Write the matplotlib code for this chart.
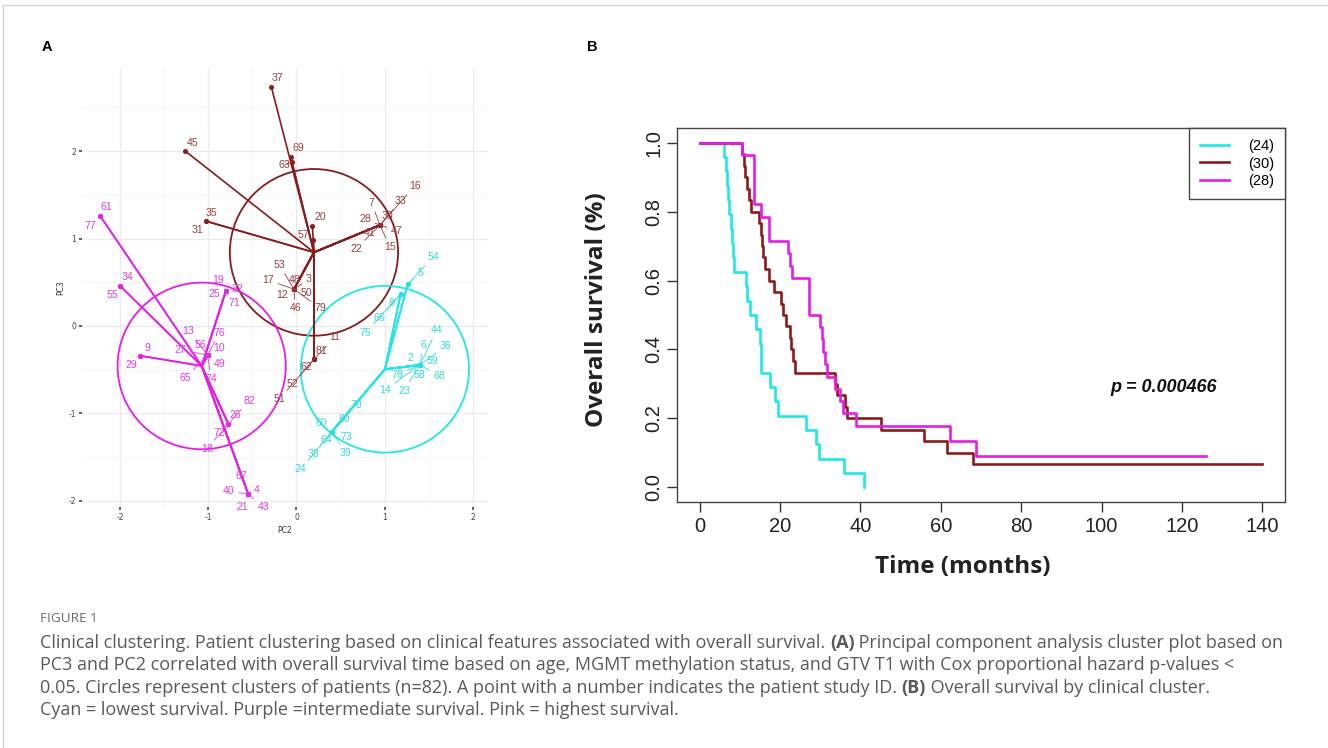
import matplotlib
matplotlib.use('Agg')
import matplotlib.pyplot as plt
from matplotlib.patches import Circle
from matplotlib.lines import Line2D

plt.rcParams['axes.unicode_minus'] = False

# ---------------- panel A: PCA cluster plot (PC2 vs PC3) ----------------
brown_center = (0.198, 0.842)
brown_ids = [37, 69, 63, 45, 35, 31, 20, 57, 16, 33, 7, 28, 30, 47, 41, 22, 15,
             53, 17, 48, 3, 12, 50, 46, 79, 11, 81, 62, 52, 51]
brown_pc2 = [-0.285, -0.066, -0.05, -1.26, -1.03, -1.03, 0.18, 0.19,
             0.946, 0.946, 0.946, 0.946, 0.946, 0.946, 0.946, 0.946, 0.946,
             -0.028, -0.028, -0.028, -0.028, -0.028, -0.028, -0.028, -0.028,
             0.198, 0.198, 0.198, 0.198, 0.198]
brown_pc3 = [2.735, 1.935, 1.87, 2.0, 1.2, 1.2, 1.146, 0.98,
             1.154, 1.154, 1.154, 1.154, 1.154, 1.154, 1.154, 1.154, 1.154,
             0.42, 0.42, 0.42, 0.42, 0.42, 0.42, 0.42, 0.42,
             -0.38, -0.38, -0.38, -0.38, -0.38]
brown_lab2 = [-0.21, 0.017, -0.14, -1.18, -0.96, -1.12, 0.27, 0.077,
              1.342, 1.183, 0.85, 0.776, 1.03, 1.135, 0.832, 0.674, 1.06,
              -0.195, -0.32, -0.025, 0.14, -0.168, 0.115, -0.014, 0.274,
              0.436, 0.285, 0.108, -0.043, -0.195]
brown_lab3 = [2.83, 2.03, 1.84, 2.09, 1.29, 1.10, 1.246, 1.04,
              1.6, 1.43, 1.41, 1.22, 1.257, 1.09, 1.06, 0.88, 0.9,
              0.70, 0.526, 0.526, 0.537, 0.354, 0.374, 0.2, 0.2,
              -0.13, -0.286, -0.47, -0.667, -0.838]

cyan_center = (1.002, -0.495)
cyan_ids = [54, 5, 8, 66, 75, 44, 6, 36, 2, 59, 78, 58, 68, 14, 23,
            70, 80, 60, 64, 73, 38, 39, 24]
cyan_pc2 = [1.26, 1.26, 1.18, 1.18, 1.18,
            1.399, 1.399, 1.399, 1.399, 1.399, 1.399, 1.399, 1.399, 1.399, 1.399,
            0.40, 0.40, 0.40, 0.40, 0.40, 0.40, 0.40, 0.40]
cyan_pc3 = [0.477, 0.477, 0.366, 0.366, 0.366,
            -0.446, -0.446, -0.446, -0.446, -0.446, -0.446, -0.446, -0.446, -0.446, -0.446,
            -1.21, -1.21, -1.21, -1.21, -1.21, -1.21, -1.21, -1.21]
cyan_lab2 = [1.55, 1.40, 1.078, 0.938, 0.784,
             1.588, 1.436, 1.693, 1.293, 1.542, 1.146, 1.39, 1.617, 1.002, 1.217,
             0.674, 0.541, 0.285, 0.342, 0.568, 0.19, 0.56, 0.048]
cyan_lab3 = [0.79, 0.61, 0.266, 0.088, -0.077,
             -0.046, -0.217, -0.229, -0.37, -0.397, -0.56, -0.56, -0.571, -0.731, -0.739,
             -0.903, -1.066, -1.112, -1.303, -1.265, -1.463, -1.448, -1.638]

pink_center = (-1.074, -0.457)
pink_ids = [61, 77, 34, 55, 9, 29, 19, 25, 32, 71, 13, 76, 27, 56, 10, 49, 65, 74,
            82, 26, 72, 18, 67, 40, 4, 21, 43]
pink_pc2 = [-2.225, -2.225, -2.0, -2.0, -1.772, -1.772, -0.80, -0.80, -0.80, -0.80,
            -1.006, -1.006, -1.006, -1.006, -1.006, -1.006, -1.006, -1.006,
            -0.772, -0.772, -0.772, -0.772, -0.546, -0.546, -0.546, -0.546, -0.546]
pink_pc3 = [1.26, 1.26, 0.46, 0.46, -0.34, -0.34, 0.40, 0.40, 0.40, 0.40,
            -0.331, -0.331, -0.331, -0.331, -0.331, -0.331, -0.331, -0.331,
            -1.12, -1.12, -1.12, -1.12, -1.923, -1.923, -1.923, -1.923, -1.923]
pink_lab2 = [-2.15, -2.33, -1.91, -2.09, -1.69, -1.866, -0.886, -0.934, -0.666, -0.708,
             -1.225, -0.874, -1.32, -1.093, -0.874, -0.866, -1.263, -0.968,
             -0.535, -0.689, -0.874, -1.017, -0.62, -0.764, -0.45, -0.609, -0.376]
pink_lab3 = [1.363, 1.146, 0.556, 0.354, -0.248, -0.446, 0.526, 0.362, 0.42, 0.26,
             -0.057, -0.077, -0.274, -0.217, -0.255, -0.434, -0.598, -0.609,
             -0.853, -1.017, -1.219, -1.406, -1.714, -1.886, -1.874, -2.072, -2.072]

circle_radius = 0.953

# ---------------- panel B: Kaplan-Meier curves ----------------
cyan_time = [0, 6.2, 6.5, 6.8, 7.1, 7.4, 7.8, 8.1, 8.4, 8.6, 11.5, 11.9, 12.5,
             14.0, 15.0, 15.2, 15.4, 17.5, 18.7, 19.4, 26.6, 28.9, 29.7, 35.9, 40.9]
cyan_surv = [1.0, 0.958, 0.917, 0.875, 0.833, 0.792, 0.75, 0.708, 0.667, 0.625,
             0.583, 0.542, 0.5, 0.458, 0.417, 0.375, 0.333, 0.292, 0.25, 0.208,
             0.167, 0.125, 0.083, 0.042, 0.0]

brown_time = [0, 10.6, 11.0, 11.4, 11.8, 12.3, 12.9, 14.7, 15.2, 15.5, 15.8, 16.3,
              17.4, 18.6, 20.3, 20.8, 21.4, 22.4, 22.8, 23.3, 23.8, 33.8, 34.2,
              36.1, 36.6, 45.2, 55.8, 61.6, 68.0, 140]
brown_surv = [1.0, 0.967, 0.933, 0.9, 0.867, 0.833, 0.8, 0.767, 0.733, 0.7, 0.667,
              0.633, 0.6, 0.567, 0.533, 0.5, 0.467, 0.433, 0.4, 0.367, 0.333, 0.3,
              0.267, 0.233, 0.2, 0.167, 0.133, 0.1, 0.067, 0.067]

pink_time = [0, 10.6, 13.5, 15.4, 17.2, 22.0, 22.4, 23.0, 27.2, 30.0, 30.4, 30.8,
             31.2, 31.6, 33.8, 35.0, 35.6, 38.9, 62.4, 68.8, 126]
pink_surv = [1.0, 0.964, 0.821, 0.786, 0.714, 0.679, 0.643, 0.607, 0.5, 0.464, 0.429,
             0.393, 0.357, 0.321, 0.286, 0.25, 0.214, 0.179, 0.134, 0.09, 0.09]

legend_labels = ['(24)', '(30)', '(28)']
p_text = 'p = 0.000466'

caption_title = 'FIGURE 1'
caption_lines = [
    [('Clinical clustering. Patient clustering based on clinical features associated with overall survival. ', False),
     ('(A)', True), (' Principal component analysis cluster plot based on', False)],
    [('PC3 and PC2 correlated with overall survival time based on age, MGMT methylation status, and GTV T1 with Cox proportional hazard p-values <', False)],
    [('0.05. Circles represent clusters of patients (n=82). A point with a number indicates the patient study ID. ', False),
     ('(B)', True), (' Overall survival by clinical cluster.', False)],
    [('Cyan = lowest survival. Purple =intermediate survival. Pink = highest survival.', False)],
]

CYAN = '#1EE8E8'
BROWN = '#8B1A1A'
PINK = '#E81CE8'
CYAN_TXT = '#33DADA'
BROWN_TXT = '#9B3E3E'
PINK_TXT = '#E23CE2'

W, H = 1328, 748
fig = plt.figure(figsize=(W / 100, H / 100), dpi=100)

# thin frame of the figure page
fig.add_artist(Line2D([3 / W, 3 / W], [0, 1 - 5 / H], color='#d2d2d2', lw=1))
fig.add_artist(Line2D([3 / W, 1], [1 - 5 / H, 1 - 5 / H], color='#d2d2d2', lw=1))

# ---- panel A
axA = fig.add_axes([82 / W, 1 - 507 / H, 406 / W, (507 - 68) / H])
axA.set_xlim(-2.43, 2.17)
axA.set_ylim(-2.07, 2.95)
axA.set_xticks([-2, -1, 0, 1, 2])
axA.set_yticks([-2, -1, 0, 1, 2])
axA.set_xticks([-1.5, -0.5, 0.5, 1.5], minor=True)
axA.set_yticks([-1.5, -0.5, 0.5, 1.5, 2.5], minor=True)
axA.grid(which='major', color='#EBEBEB', lw=0.9)
axA.grid(which='minor', color='#F4F4F4', lw=0.6)
axA.set_axisbelow(True)
for s in axA.spines.values():
    s.set_visible(False)
axA.tick_params(which='major', length=2, width=1.2, color='#444444',
                labelsize=5.5, labelcolor='#444444', pad=2)
axA.tick_params(which='minor', length=0)
axA.set_xlabel('PC2', fontsize=5.5, color='#333333', labelpad=3)
axA.set_ylabel('PC3', fontsize=5.5, color='#333333', labelpad=3)

clusters = [
    (brown_center, brown_ids, brown_pc2, brown_pc3, brown_lab2, brown_lab3, BROWN, BROWN_TXT),
    (cyan_center, cyan_ids, cyan_pc2, cyan_pc3, cyan_lab2, cyan_lab3, CYAN, CYAN_TXT),
    (pink_center, pink_ids, pink_pc2, pink_pc3, pink_lab2, pink_lab3, PINK, PINK_TXT),
]

for center, ids, px, py, lx, ly, col, tcol in clusters:
    axA.add_patch(Circle(center, circle_radius, fill=False, ec=col, lw=1.3, zorder=2))
    for i in range(len(ids)):
        axA.plot([center[0], px[i]], [center[1], py[i]], color=col, lw=1.2, zorder=3)
        axA.plot(px[i], py[i], 'o', color=col, ms=2.6, zorder=4)
        axA.annotate(str(ids[i]), xy=(px[i], py[i]), xytext=(lx[i], ly[i]),
                     ha='center', va='center', fontsize=7.6, color=tcol,
                     family='Liberation Sans', zorder=5,
                     arrowprops=dict(arrowstyle='-', color=tcol, lw=0.6,
                                     shrinkA=1, shrinkB=0))

# ---- panel B
axB = fig.add_axes([677 / W, 1 - 502 / H, 608 / W, 374 / H])
axB.step(cyan_time, cyan_surv, where='post', color=CYAN, lw=1.9)
axB.step(brown_time, brown_surv, where='post', color=BROWN, lw=1.9)
axB.step(pink_time, pink_surv, where='post', color=PINK, lw=1.9)
axB.set_xlim(-5.6, 145.6)
axB.set_ylim(-0.043, 1.043)
axB.set_xticks(range(0, 141, 20))
axB.set_yticks([0, 0.2, 0.4, 0.6, 0.8, 1.0])
axB.set_yticklabels(['0.0', '0.2', '0.4', '0.6', '0.8', '1.0'], rotation=90, va='center')
for lab in axB.get_xticklabels() + axB.get_yticklabels():
    lab.set_family('Liberation Sans')
axB.tick_params(length=7, width=1, color='#333333', labelsize=14.5, labelcolor='#222222')
axB.tick_params(axis='y', pad=3)
axB.tick_params(axis='x', pad=4)
for s in axB.spines.values():
    s.set_color('#444444')
    s.set_linewidth(1)

handles = [Line2D([], [], color=c, lw=1.9) for c in (CYAN, BROWN, PINK)]
leg = axB.legend(handles, legend_labels, loc='upper right', borderaxespad=0,
                 fancybox=False, edgecolor='#444444', framealpha=1,
                 prop={'family': 'Liberation Sans', 'size': 10.5},
                 handlelength=2.0, handletextpad=1.3, labelspacing=0.25,
                 borderpad=0.75)
leg.get_frame().set_linewidth(1)

axB.text(115.4, 0.29, p_text, ha='center', va='center', fontsize=13,
         fontweight='bold', style='italic', family='Liberation Sans', color='#111111')

fig.text(597 / W, 1 - 310 / H, 'Overall survival (%)', rotation=90, ha='center',
         va='center', fontsize=17.5, fontweight='bold', family='Open Sans', color='#222222')
fig.text(963 / W, 1 - 567 / H, 'Time (months)', ha='center', va='center',
         fontsize=17.5, fontweight='bold', family='Open Sans', color='#222222')

# panel letters
fig.text(47 / W, 1 - 47 / H, 'A', ha='center', va='center', fontsize=10.5,
         fontweight='bold', family='Liberation Sans')
fig.text(592 / W, 1 - 47 / H, 'B', ha='center', va='center', fontsize=10.5,
         fontweight='bold', family='Liberation Sans')

# caption
CAP = '#5a5a5a'
fig.text(40 / W, 1 - 618 / H, caption_title, ha='left', va='center', fontsize=9.7,
         family='Open Sans', color='#6a6a6a')
renderer = fig.canvas.get_renderer()
line_y = [643, 665, 688, 710]
for yy, parts in zip(line_y, caption_lines):
    x = 40
    for txt, bold in parts:
        t = fig.text(x / W, 1 - yy / H, txt, ha='left', va='center', fontsize=13.0,
                     fontweight='bold' if bold else 'normal', family='Open Sans', color=CAP)
        x += t.get_window_extent(renderer=renderer).width

fig.savefig('out.png', dpi=100)
